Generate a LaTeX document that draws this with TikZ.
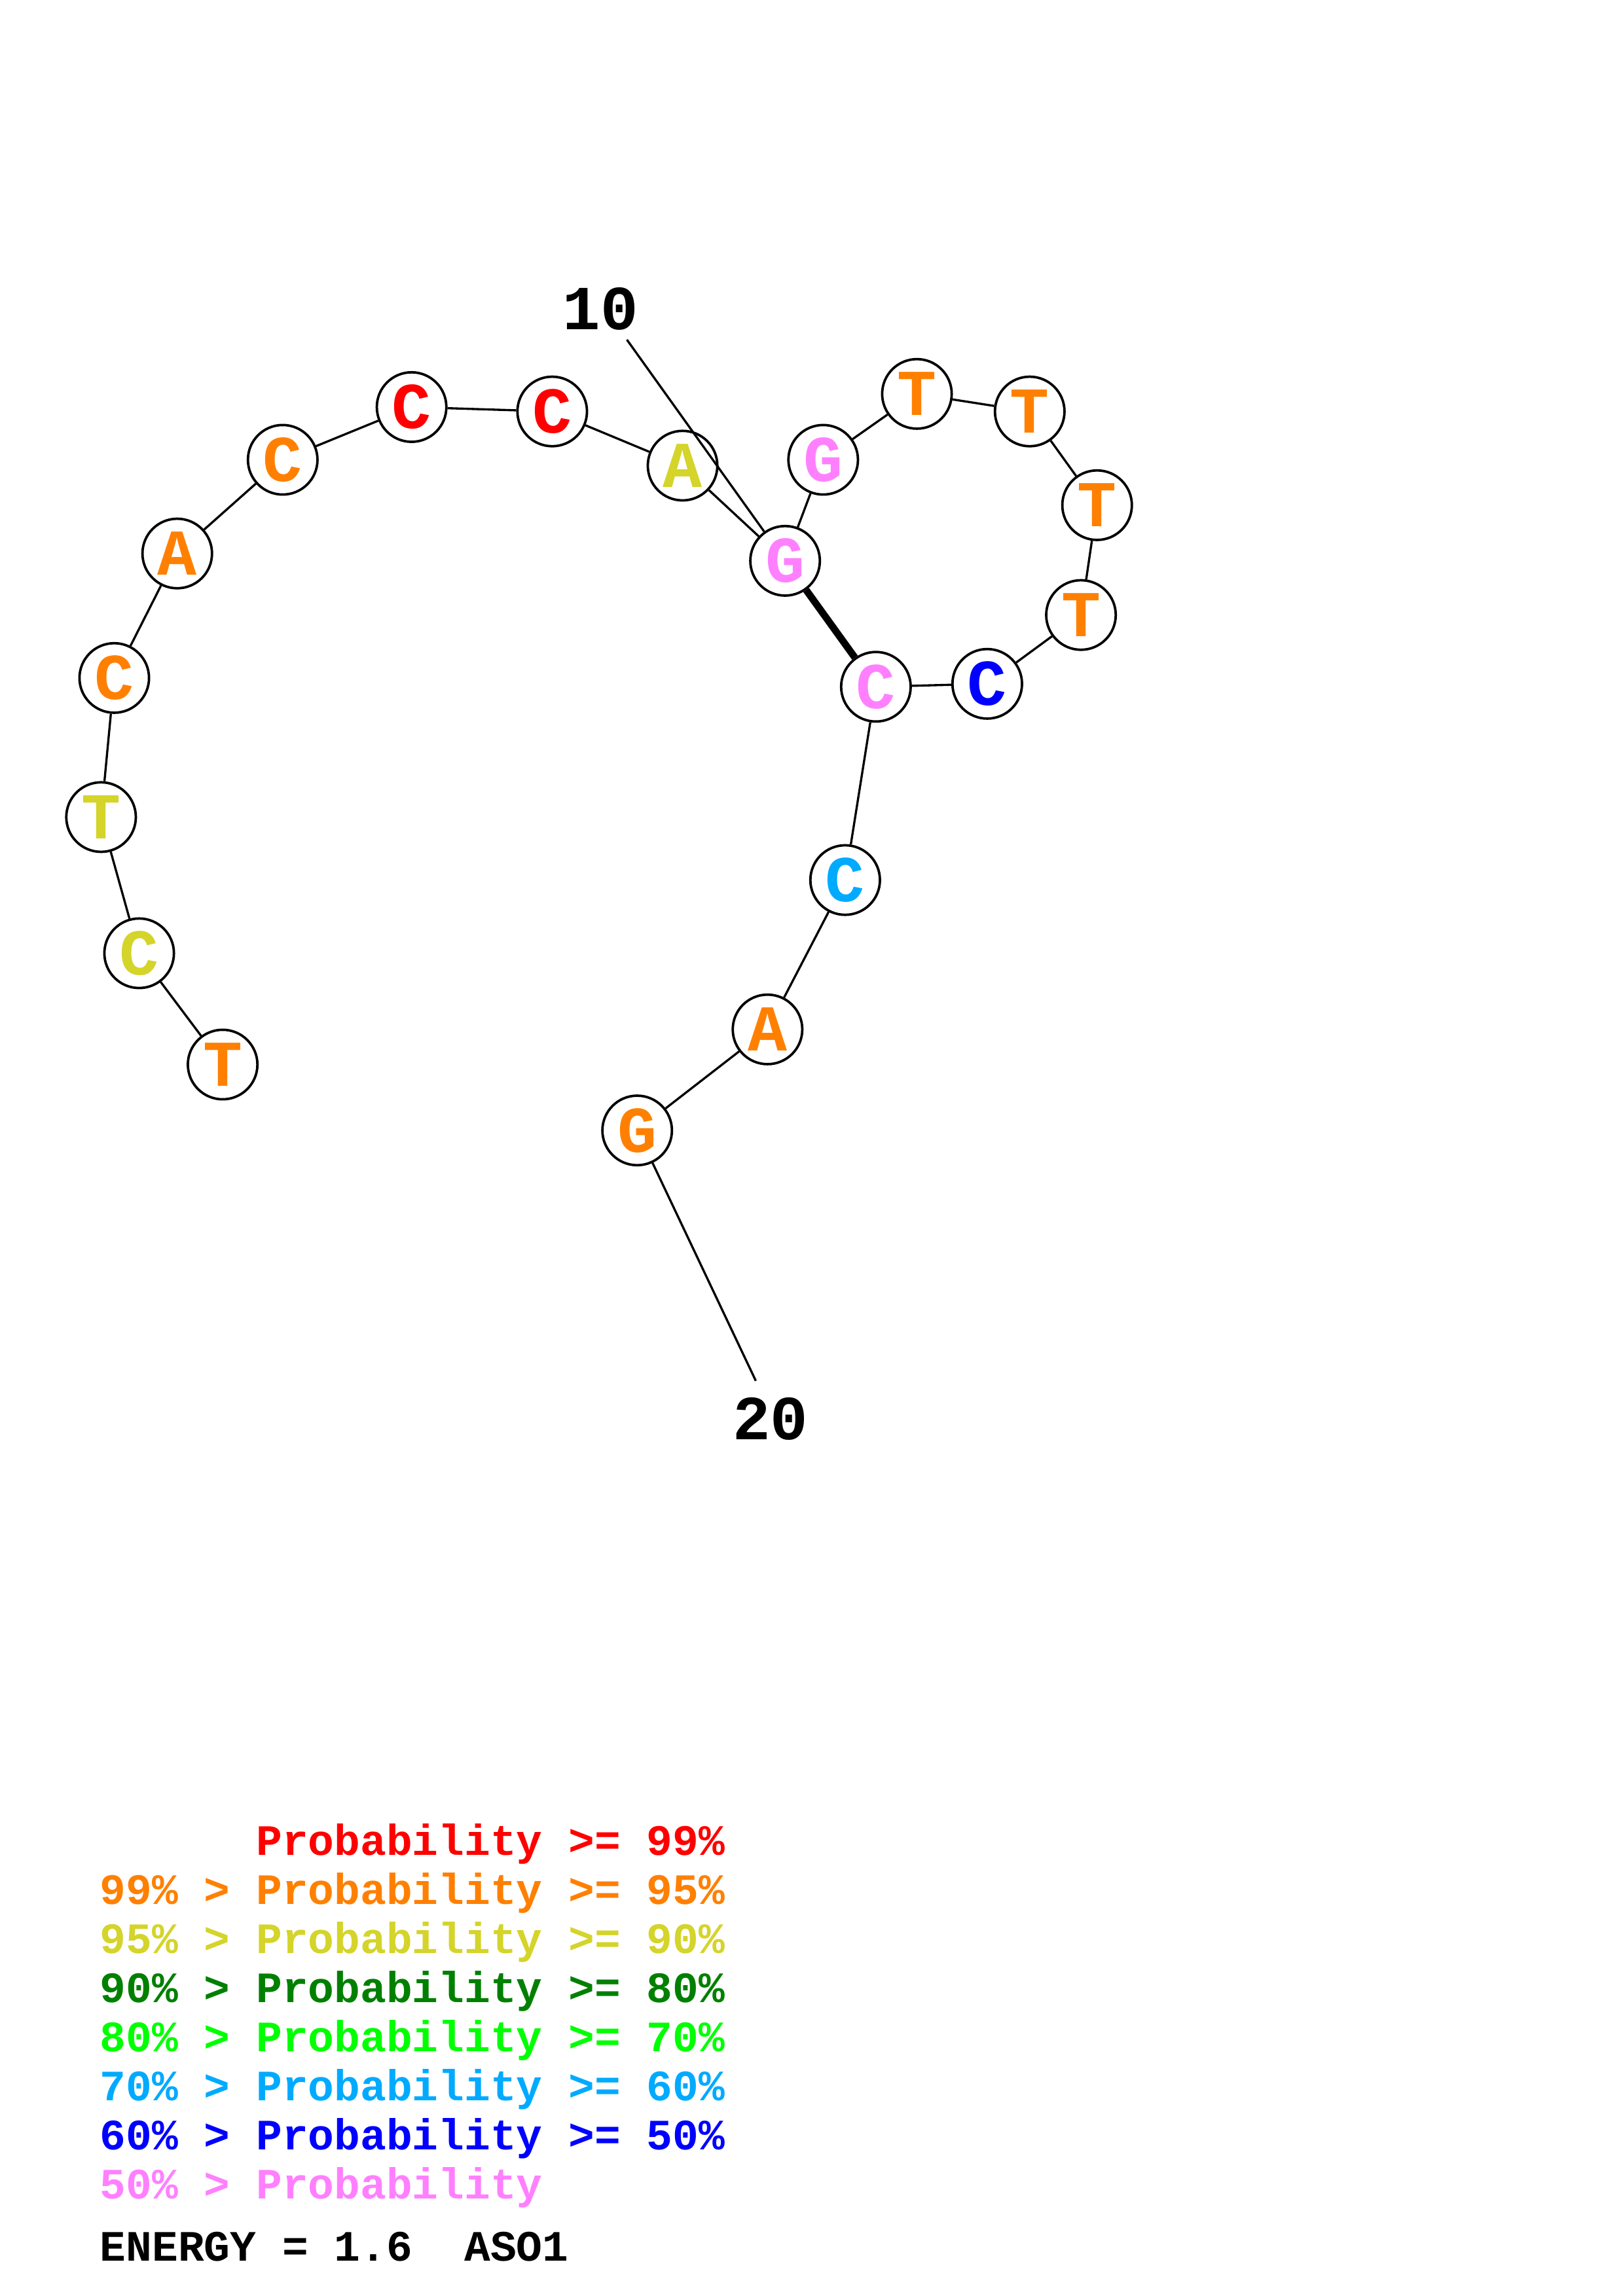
\documentclass[tikz,border=0pt]{standalone}
\usepackage{fontspec}
\setmonofont{Liberation Mono}
\usepackage{tikz}

\definecolor{pRed}{RGB}{255,0,0}
\definecolor{pOrange}{RGB}{255,128,0}
\definecolor{pYellow}{RGB}{212,212,42}
\definecolor{pDkGreen}{RGB}{0,128,0}
\definecolor{pGreen}{RGB}{0,255,0}
\definecolor{pLtBlue}{RGB}{0,170,255}
\definecolor{pBlue}{RGB}{0,0,255}
\definecolor{pPink}{RGB}{255,128,255}

\begin{document}
\begin{tikzpicture}[x=0.537pt, y=-0.537pt,
                   every node/.style={inner sep=0pt},
                   base/.style={circle, draw=black, fill=white, line width=0.9pt, minimum size=25.5pt,
                                font=\ttfamily\bfseries\fontsize{24pt}{24pt}\selectfont},
                   bond/.style={line width=0.8pt},
                   pair/.style={line width=2.6pt},
                   numlabel/.style={anchor=base, font=\ttfamily\bfseries\fontsize{23pt}{23pt}\selectfont},
                   legend/.style={anchor=base west, font=\ttfamily\bfseries\fontsize{15.9pt}{16pt}\selectfont}]
\useasboundingbox (0,0) rectangle (1108,1568);

% nucleotides
\node[base, text=pOrange] (n1) at (152,727) {T};
\node[base, text=pYellow] (n2) at (95,651) {C};
\node[base, text=pYellow] (n3) at (69,558) {T};
\node[base, text=pOrange] (n4) at (78,463) {C};
\node[base, text=pOrange] (n5) at (121,378) {A};
\node[base, text=pOrange] (n6) at (193,314) {C};
\node[base, text=pRed] (n7) at (281,278) {C};
\node[base, text=pRed] (n8) at (377,281) {C};
\node[base, text=pYellow] (n9) at (466,318) {A};
\node[base, text=pPink] (n10) at (536,383) {G};
\node[base, text=pPink] (n11) at (562,314) {G};
\node[base, text=pOrange] (n12) at (626,269) {T};
\node[base, text=pOrange] (n13) at (703,281) {T};
\node[base, text=pOrange] (n14) at (749,345) {T};
\node[base, text=pOrange] (n15) at (738,420) {T};
\node[base, text=pBlue] (n16) at (674,467) {C};
\node[base, text=pPink] (n17) at (598,469) {C};
\node[base, text=pLtBlue] (n18) at (577,601) {C};
\node[base, text=pOrange] (n19) at (524,703) {A};
\node[base, text=pOrange] (n20) at (435,772) {G};

% backbone
\draw[bond] (n1) -- (n2) -- (n3) -- (n4) -- (n5) -- (n6) -- (n7) -- (n8) -- (n9) -- (n10);
\draw[bond] (n10) -- (n11) -- (n12) -- (n13) -- (n14) -- (n15) -- (n16) -- (n17) -- (n18) -- (n19) -- (n20);

% base pair
\draw[pair] (n10) -- (n17);

% position labels
\node[numlabel] (lab10) at (410,225) {10};
\node[numlabel] (lab20) at (526,983) {20};
\coordinate (tick10) at (428,232);
\coordinate (tick20) at (516,943);
\draw[bond] (tick10) -- (n10);
\draw[bond] (n20) -- (tick20);

% legend
\node[legend, text=pRed] (leg1) at (68,1267) {\phantom{99\% > }Probability >= 99\%};
\node[legend, text=pOrange] (leg2) at (68,1300.5) {99\% > Probability >= 95\%};
\node[legend, text=pYellow] (leg3) at (68,1334) {95\% > Probability >= 90\%};
\node[legend, text=pDkGreen] (leg4) at (68,1367.5) {90\% > Probability >= 80\%};
\node[legend, text=pGreen] (leg5) at (68,1401) {80\% > Probability >= 70\%};
\node[legend, text=pLtBlue] (leg6) at (68,1434.5) {70\% > Probability >= 60\%};
\node[legend, text=pBlue] (leg7) at (68,1468) {60\% > Probability >= 50\%};
\node[legend, text=pPink] (leg8) at (68,1501.5) {50\% > Probability};
\node[legend, text=black] (energy) at (68,1544) {ENERGY = 1.6\ \ ASO1};
\end{tikzpicture}
\end{document}
